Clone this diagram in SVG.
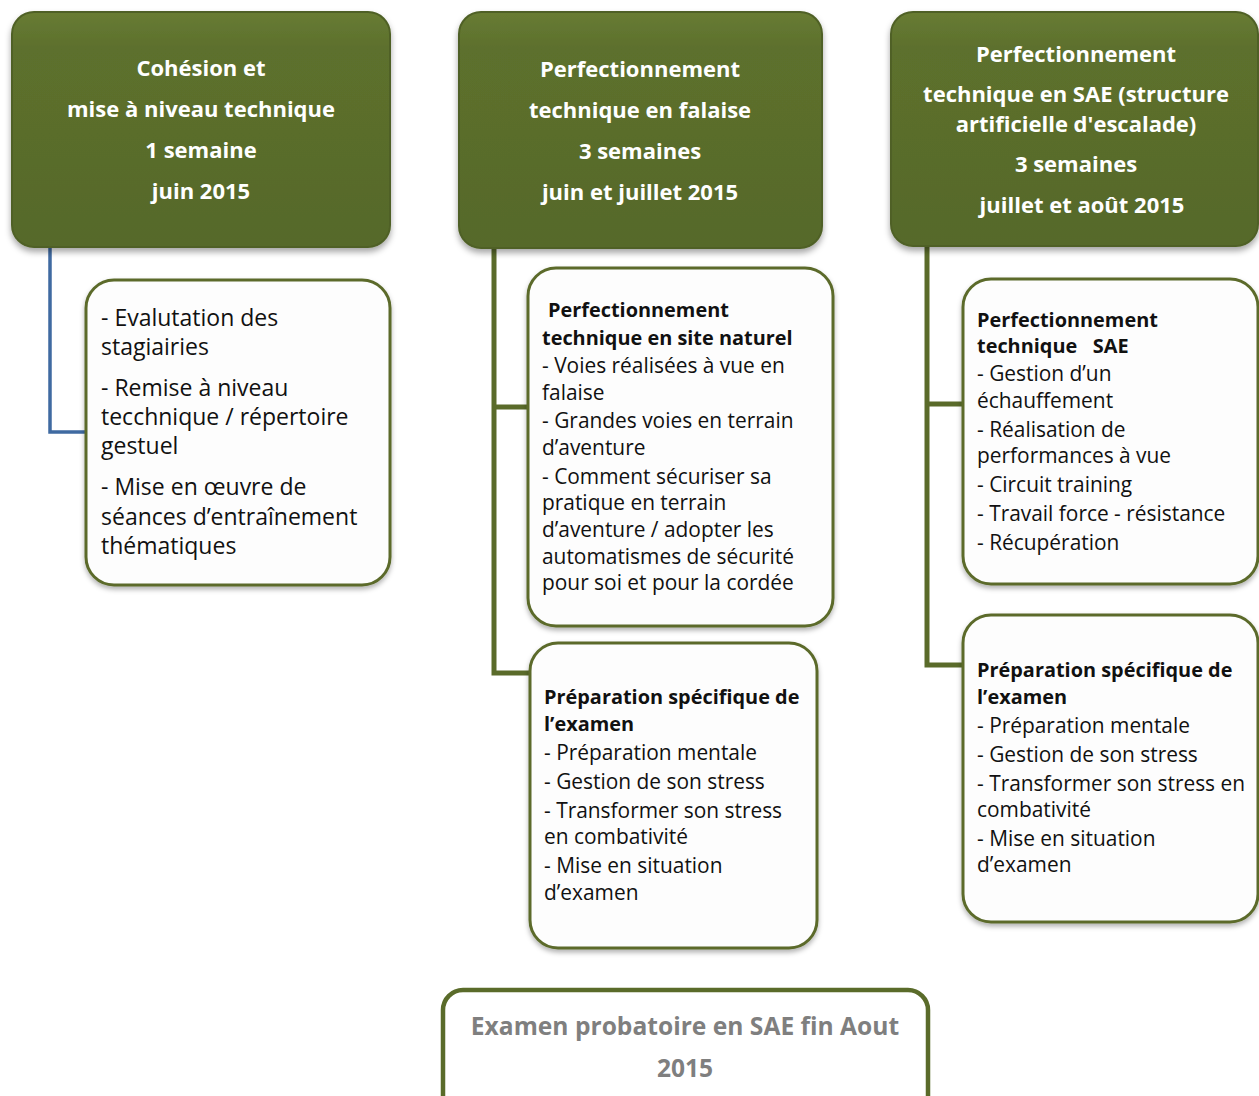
<svg xmlns="http://www.w3.org/2000/svg" width="1259" height="1096" viewBox="0 0 1259 1096">
<defs>
<linearGradient id="hg" x1="0" y1="0" x2="0" y2="1">
<stop offset="0" stop-color="#687c33"/>
<stop offset="0.15" stop-color="#5d702d"/>
<stop offset="1" stop-color="#56692a"/>
</linearGradient>
<filter id="sh" x="-10%" y="-10%" width="125%" height="125%">
<feDropShadow dx="0" dy="4" stdDeviation="3" flood-color="#000" flood-opacity="0.35"/>
</filter>
<filter id="sh2" x="-10%" y="-10%" width="125%" height="125%">
<feDropShadow dx="0" dy="3" stdDeviation="2.5" flood-color="#000" flood-opacity="0.3"/>
</filter>
</defs>
<style>
.hdr{fill:url(#hg);stroke:#4f6126;stroke-width:2;filter:url(#sh)}
.box{fill:#fdfdfd;stroke:#5b6b2c;stroke-width:3;filter:url(#sh2)}
.ht{font-family:"Open Sans","Liberation Sans",sans-serif;font-weight:bold;font-size:22px;fill:#ffffff;text-anchor:middle}
.bt{font-family:"Open Sans","Liberation Sans",sans-serif;font-size:23px;fill:#111}
.st{font-family:"Open Sans","Liberation Sans",sans-serif;font-size:20.9px;fill:#111}
.b{font-weight:bold;font-size:19.9px}
.con{fill:none;stroke:#5a6b2a;stroke-width:5}
.ex{font-family:"Open Sans","Liberation Sans",sans-serif;font-weight:bold;font-size:24.6px;fill:#7f7f7f;text-anchor:middle}
</style>
<rect width="1259" height="1096" fill="#ffffff"/>
<g id="connectors">
<path d="M50 247 V432 H88" fill="none" stroke="#3f6aa1" stroke-width="3.5"/>
<path class="con" d="M494 248 V673 H534"/>
<path class="con" d="M494 407 H530"/>
<path class="con" d="M927 246 V665 H964"/>
<path class="con" d="M927 404 H964"/>
</g>
<g id="h1">
<rect class="hdr" x="12" y="12" width="378" height="235" rx="22"/>
<text class="ht" x="201" y="76">Cohésion et</text>
<text class="ht" x="201" y="117">mise à niveau technique</text>
<text class="ht" x="201" y="158">1 semaine</text>
<text class="ht" x="201" y="199">juin 2015</text>
</g>
<g id="h2">
<rect class="hdr" x="459" y="12" width="363" height="236" rx="22"/>
<text class="ht" x="640" y="77">Perfectionnement</text>
<text class="ht" x="640" y="118">technique en falaise</text>
<text class="ht" x="640" y="159">3 semaines</text>
<text class="ht" x="640" y="200">juin et juillet 2015</text>
</g>
<g id="h3">
<rect class="hdr" x="891" y="12" width="367" height="234" rx="22"/>
<text class="ht" x="1076" y="62">Perfectionnement</text>
<text class="ht" x="1076" y="102">technique en SAE (structure</text>
<text class="ht" x="1076" y="132">artificielle d'escalade)</text>
<text class="ht" x="1076" y="172">3 semaines</text>
<text class="ht" x="1082" y="213">juillet et août 2015</text>
</g>
<g id="l1">
<rect class="box" x="86" y="280" width="304" height="305" rx="28"/>
<text class="bt" x="101" y="326">- Evalutation des</text>
<text class="bt" x="101" y="355">stagiairies</text>
<text class="bt" x="101" y="396">- Remise à niveau</text>
<text class="bt" x="101" y="425">tecchnique / répertoire</text>
<text class="bt" x="101" y="454">gestuel</text>
<text class="bt" x="101" y="495">- Mise en œuvre de</text>
<text class="bt" x="101" y="525">séances d’entraînement</text>
<text class="bt" x="101" y="554">thématiques</text>
</g>
<g id="m1">
<rect class="box" x="528" y="268" width="305" height="358" rx="28"/>
<text class="st b" x="548" y="317">Perfectionnement</text>
<text class="st b" x="542" y="345">technique en site naturel</text>
<text class="st" x="542" y="373">- Voies réalisées à vue en</text>
<text class="st" x="542" y="400">falaise</text>
<text class="st" x="542" y="428">- Grandes voies en terrain</text>
<text class="st" x="542" y="455">d’aventure</text>
<text class="st" x="542" y="484">- Comment sécuriser sa</text>
<text class="st" x="542" y="510">pratique en terrain</text>
<text class="st" x="542" y="537">d’aventure / adopter les</text>
<text class="st" x="542" y="564">automatismes de sécurité</text>
<text class="st" x="542" y="590">pour soi et pour la cordée</text>
</g>
<g id="m2">
<rect class="box" x="530" y="643" width="287" height="305" rx="28"/>
<text class="st b" x="544" y="704">Préparation spécifique de</text>
<text class="st b" x="544" y="731">l’examen</text>
<text class="st" x="544" y="760">- Préparation mentale</text>
<text class="st" x="544" y="789">- Gestion de son stress</text>
<text class="st" x="544" y="818">- Transformer son stress</text>
<text class="st" x="544" y="844">en combativité</text>
<text class="st" x="544" y="873">- Mise en situation</text>
<text class="st" x="544" y="900">d’examen</text>
</g>
<g id="r1">
<rect class="box" x="963" y="279" width="295" height="305" rx="28"/>
<text class="st b" x="977" y="327">Perfectionnement</text>
<text class="st b" x="977" y="353" xml:space="preserve">technique   SAE</text>
<text class="st" x="977" y="381">- Gestion d’un</text>
<text class="st" x="977" y="408">échauffement</text>
<text class="st" x="977" y="437">- Réalisation de</text>
<text class="st" x="977" y="463">performances à vue</text>
<text class="st" x="977" y="492">- Circuit training</text>
<text class="st" x="977" y="521">- Travail force - résistance</text>
<text class="st" x="977" y="550">- Récupération</text>
</g>
<g id="r2">
<rect class="box" x="963" y="615" width="295" height="307" rx="28"/>
<text class="st b" x="977" y="677">Préparation spécifique de</text>
<text class="st b" x="977" y="704">l’examen</text>
<text class="st" x="977" y="733">- Préparation mentale</text>
<text class="st" x="977" y="762">- Gestion de son stress</text>
<text class="st" x="977" y="791">- Transformer son stress en</text>
<text class="st" x="977" y="817">combativité</text>
<text class="st" x="977" y="846">- Mise en situation</text>
<text class="st" x="977" y="872">d’examen</text>
</g>
<g id="exam">
<rect x="443" y="990" width="485" height="130" rx="20" fill="#ffffff" stroke="#5a6b2a" stroke-width="4.5"/>
<text class="ex" x="685" y="1035">Examen probatoire en SAE fin Aout</text>
<text class="ex" x="685" y="1077">2015</text>
</g>
</svg>
